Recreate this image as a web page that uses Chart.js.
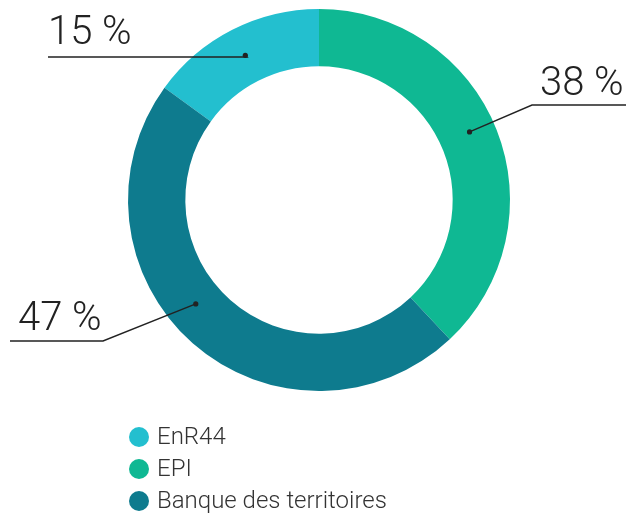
<!DOCTYPE html>
<html>
<head>
<meta charset="utf-8">
<script src="https://cdn.jsdelivr.net/npm/chart.js@4"></script>
<style>
  html, body { margin: 0; padding: 0; background: #fff; }
  #wrap { width: 626px; height: 514px; }
</style>
</head>
<body>
<div id="wrap"><canvas id="parts"></canvas></div>
<script>
const labels = ['EnR44', 'EPI', 'Banque des territoires'];
const shares = [15, 38, 47];
const colors = ['#23bfcf', '#0fb893', '#0e7b8e'];

// where each callout sits (dot position within the slice, elbow and end of the line, text)
const callouts = [
  { at: 0.5, r: 0.5, elbow: [247, 57], end: 48, text: [48, 44] },
  { at: 0.48, r: 0.55, elbow: [532, 105], end: 626, text: [540, 95] },
  { at: 0.55, r: 0.48, elbow: [103, 341], end: 10, text: [18, 330] }
];

const calloutPlugin = {
  id: 'callouts',
  afterDatasetsDraw(chart) {
    const ctx = chart.ctx;
    const arcs = chart.getDatasetMeta(0).data;
    ctx.save();
    arcs.forEach((arc, i) => {
      const c = callouts[i];
      const p = arc.getProps(['x', 'y', 'startAngle', 'endAngle', 'innerRadius', 'outerRadius'], true);
      const a = p.startAngle + (p.endAngle - p.startAngle) * c.at;
      const rr = p.innerRadius + (p.outerRadius - p.innerRadius) * c.r;
      const dx = p.x + Math.cos(a) * rr;
      const dy = p.y + Math.sin(a) * rr;
      ctx.strokeStyle = '#222';
      ctx.lineWidth = 1.4;
      ctx.beginPath();
      ctx.moveTo(dx, dy);
      ctx.lineTo(c.elbow[0], c.elbow[1]);
      ctx.lineTo(c.end, c.elbow[1]);
      ctx.stroke();
      ctx.fillStyle = '#222';
      ctx.beginPath();
      ctx.arc(dx, dy, 2.6, 0, Math.PI * 2);
      ctx.fill();
      ctx.font = '300 40px Roboto';
      ctx.textAlign = 'left';
      ctx.textBaseline = 'alphabetic';
      ctx.fillText(shares[i] + ' %', c.text[0], c.text[1]);
    });

    // legend, one entry per line
    ctx.font = '300 24px Roboto';
    ctx.textBaseline = 'middle';
    labels.forEach((lab, i) => {
      const y = 437 + i * 32;
      ctx.fillStyle = colors[i];
      ctx.beginPath();
      ctx.arc(139, y, 10, 0, Math.PI * 2);
      ctx.fill();
      ctx.fillStyle = '#333';
      ctx.fillText(lab, 157, y + 1);
    });
    ctx.restore();
  }
};

new Chart(document.getElementById('parts'), {
  type: 'doughnut',
  data: {
    labels: labels,
    datasets: [{
      data: shares,
      backgroundColor: colors,
      borderWidth: 0
    }]
  },
  options: {
    responsive: true,
    maintainAspectRatio: false,
    animation: false,
    cutout: '70%',
    rotation: -54,
    layout: { padding: { top: 9, bottom: 123, left: 12, right: 0 } },
    plugins: {
      legend: { display: false },
      tooltip: { enabled: false }
    }
  },
  plugins: [calloutPlugin]
});
</script>
</body>
</html>
